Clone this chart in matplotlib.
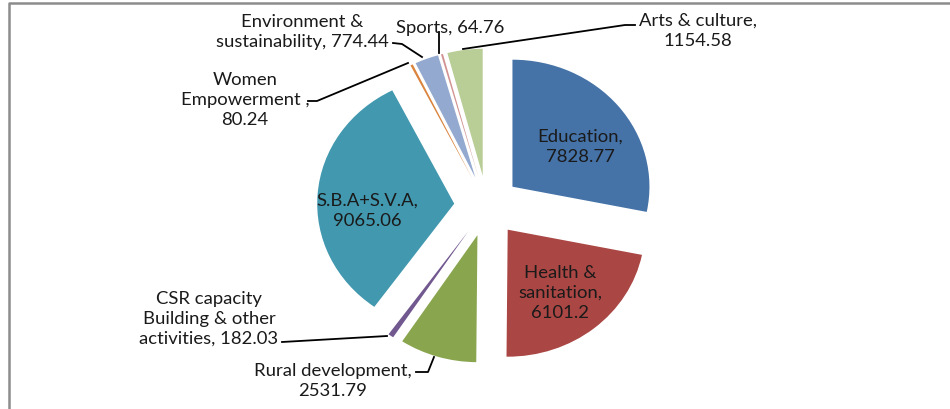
import matplotlib
matplotlib.use("Agg")
import matplotlib.pyplot as plt
from matplotlib.lines import Line2D

categories = ["Education", "Health & sanitation", "Rural development",
              "CSR capacity Building & other activities", "S.B.A+S.V.A",
              "Women Empowerment", "Environment & sustainability", "Sports",
              "Arts & culture"]
values = [7828.77, 6101.2, 2531.79, 182.03, 9065.06, 80.24, 774.44, 64.76, 1154.58]
label_texts = ["Education,\n7828.77", "Health &\nsanitation,\n6101.2",
               "Rural development,\n2531.79",
               "CSR capacity\nBuilding & other\nactivities, 182.03",
               "S.B.A+S.V.A,\n9065.06", "Women\nEmpowerment ,\n80.24",
               "Environment &\nsustainability, 774.44", "Sports, 64.76",
               "Arts & culture,\n1154.58"]
colors = ["#4572A7", "#AA4643", "#89A54E", "#71588F", "#4198AF",
          "#DB843D", "#93A9CF", "#D19392", "#B9CD96"]

W, H = 950, 409
fig = plt.figure(figsize=(W / 100, H / 100), dpi=100)
plt.rcParams['font.family'] = ['Lato', 'DejaVu Sans']

ax = fig.add_axes([0, 0, 1, 1])
cx, cy = 487, 206      # pie centre in pixels (from top-left)
rx, ry = 137, 127      # radius in pixels
ax.pie(values, colors=colors, startangle=90, counterclock=False,
       explode=[0.24] * len(values), radius=1.0,
       wedgeprops=dict(linewidth=0))
ax.set_aspect('auto')
ax.set_xlim(-cx / rx, (W - cx) / rx)
ax.set_ylim(-(H - cy) / ry, cy / ry)
ax.axis('off')


def fx(px):
    return px / W


def fy(py):
    return 1 - py / H


fs = 13.3
ls = 1.3
# inside labels
inside = {0: (580, 147), 1: (560, 293), 4: (367, 211)}
for i, (px, py) in inside.items():
    fig.text(fx(px), fy(py), label_texts[i], ha='center', va='center',
             fontsize=fs, color='#1a1a1a', linespacing=ls)

outside = {2: (333, 381), 3: (209, 319), 5: (245, 100), 6: (302, 32),
           7: (450, 28), 8: (698, 31)}
for i, (px, py) in outside.items():
    fig.text(fx(px), fy(py), label_texts[i], ha='center', va='center',
             fontsize=fs, color='#1a1a1a', linespacing=ls)

leaders = [
    [(416, 372), (428, 372), (434, 357)],          # Rural
    [(282, 342), (387, 336)],                      # CSR
    [(308, 101), (317, 101), (408, 63)],           # Women
    [(393, 43), (402, 44), (422, 57)],             # Env
    [(439, 32), (439, 53)],                        # Sports
    [(635, 25), (625, 25), (463, 49)],             # Arts
]
for pts in leaders:
    xs = [fx(p[0]) for p in pts]
    ys = [fy(p[1]) for p in pts]
    fig.add_artist(Line2D(xs, ys, color='black', linewidth=1.3))

# chart frame
fig.add_artist(Line2D([fx(8.5), fx(8.5), fx(W)], [0, fy(2.5), fy(2.5)],
                      color='#8c8c8c', linewidth=1.8))

fig.savefig("out.png", dpi=100)
